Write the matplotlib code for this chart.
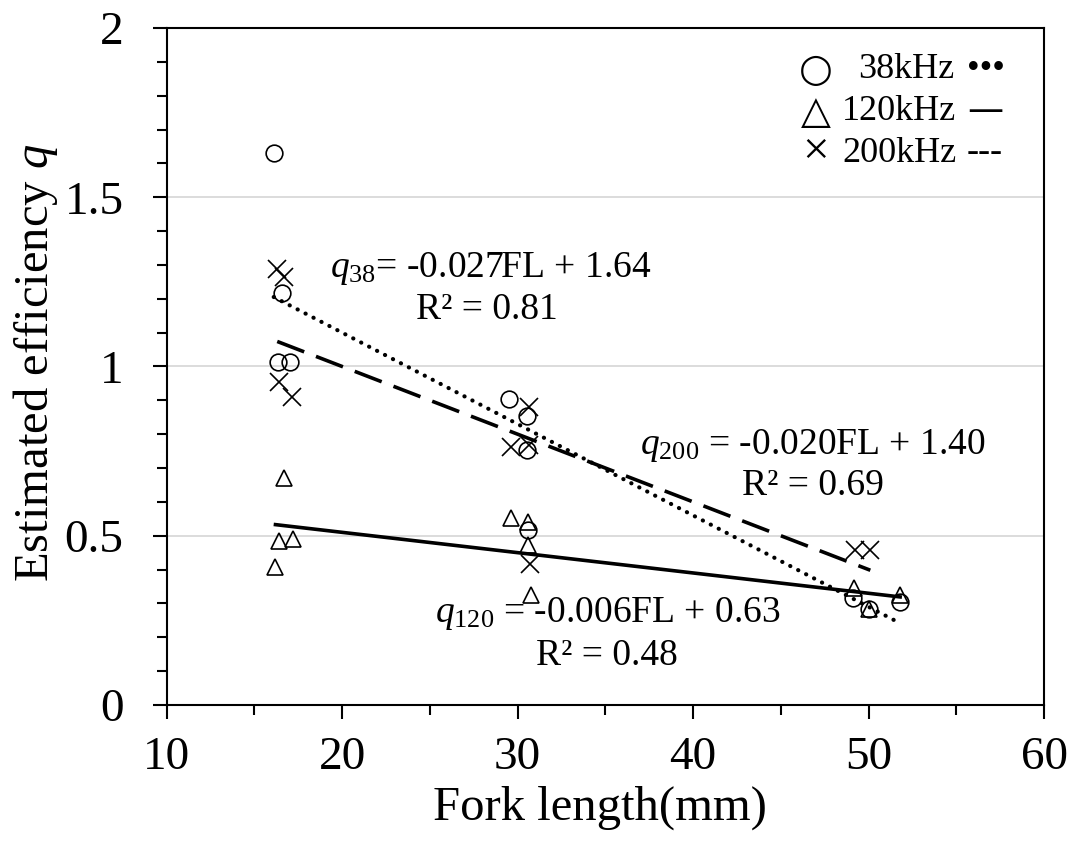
import matplotlib
matplotlib.use("Agg")
import matplotlib.pyplot as plt
from matplotlib.ticker import MultipleLocator, FuncFormatter
import numpy as np

plt.rcParams["font.family"] = ["Liberation Serif", "DejaVu Sans"]
plt.rcParams["mathtext.fontset"] = "custom"
plt.rcParams["mathtext.rm"] = "Liberation Serif"
plt.rcParams["mathtext.it"] = "Liberation Serif:italic"

# Fork length (mm) and estimated efficiency q per frequency
fl_38 = [16.1, 16.57, 16.32, 17.0, 29.52, 30.53, 30.53, 30.6, 49.14, 50.0, 51.8]
q_38 = [1.63, 1.216, 1.012, 1.012, 0.903, 0.854, 0.753, 0.517, 0.315, 0.283, 0.305]

fl_120 = [16.67, 16.42, 17.18, 16.2, 29.6, 30.6, 30.6, 30.76, 49.18, 50.0, 51.8]
q_120 = [0.670, 0.485, 0.490, 0.407, 0.551, 0.541, 0.473, 0.325, 0.345, 0.283, 0.325]

fl_200 = [16.3, 16.7, 16.42, 17.14, 30.66, 29.6, 30.66, 30.72, 49.24, 50.1]
q_200 = [1.288, 1.265, 0.953, 0.911, 0.881, 0.763, 0.768, 0.417, 0.458, 0.458]

# Linear fits (slope, intercept, R^2)
fit_38 = (-0.027, 1.64, 0.81)
fit_120 = (-0.006, 0.63, 0.48)
fit_200 = (-0.020, 1.40, 0.69)

W, H = 1074, 847
fig = plt.figure(figsize=(W / 100, H / 100), dpi=100)
ax = fig.add_axes([0.1552, 0.1677, 0.9721 - 0.1552, 0.9669 - 0.1677])

ax.set_xlim(10, 60)
ax.set_ylim(0, 2)
ax.xaxis.set_major_locator(MultipleLocator(10))
ax.xaxis.set_minor_locator(MultipleLocator(5))
ax.yaxis.set_major_locator(MultipleLocator(0.5))
ax.yaxis.set_minor_locator(MultipleLocator(0.1))
ax.yaxis.set_major_formatter(FuncFormatter(lambda v, p: f"{v:g}"))
ax.grid(axis="y", which="major", color="#d9d9d9", linewidth=1.3, zorder=0)
ax.set_axisbelow(True)

for s in ax.spines.values():
    s.set_linewidth(1.5)
ax.tick_params(which="major", direction="out", length=10, width=1.5,
               labelsize=34)
ax.tick_params(axis="x", which="major", pad=13)
ax.tick_params(axis="y", which="major", pad=21)
ax.tick_params(which="minor", direction="out", length=7.5, width=1.5)

# Trend lines over each series' range
def trend(fl, fit, **kw):
    x = np.array([min(fl), max(fl)])
    ax.plot(x, fit[0] * x + fit[1], color="black", zorder=2, **kw)

trend(fl_38, fit_38, linewidth=3.0, linestyle=(0, (0.05, 2.1)),
      dash_capstyle="round")
trend(fl_120, fit_120, linewidth=2.6, linestyle="-")
trend(fl_200, fit_200, linewidth=2.6, linestyle=(0, (8, 3.5)))

mk = dict(linestyle="none", markerfacecolor="none", markeredgecolor="black",
          markeredgewidth=1.2, zorder=3)
ax.plot(fl_38, q_38, marker="o", markersize=12, **mk)
ax.plot(fl_120, q_120, marker="^", markersize=12, **mk)
ax.plot(fl_200, q_200, marker="x", markersize=13, **mk)

# Axis titles
fig.text(600 / W, 1 - 808 / H, "Fork length(mm)", fontsize=35,
         ha="center", va="center")
fig.text(36 / W, 1 - 363 / H, r"Estimated efficiency $q$", fontsize=35,
         ha="center", va="center", rotation=90)

def at(px, py, s, **kw):
    fig.text(px / W, 1 - py / H, s, **kw)

# Equation annotations
def eq(px, py, sub, fit, sep=" "):
    at(px, py, rf"$q_{{{sub}}}${sep}= {fit[0]:.3f}FL + {fit[1]:.2f}",
       ha="center", va="center", fontsize=27)

def r2(px, py, fit):
    at(px, py, f"R² = {fit[2]:.2f}", ha="center", va="center", fontsize=27)

eq(491, 268, "38", fit_38, sep="")
r2(487, 310, fit_38)
eq(813, 445, "200", fit_200)
r2(813, 486, fit_200)
eq(608, 613, "120", fit_120)
r2(607, 656, fit_120)

# Legend text block: symbol, frequency, line-style key
legend_symbols = ["○", "△", "×"]
legend_labels = ["38kHz", "120kHz", "200kHz"]
legend_keys = ["•••", "—", "---"]
legend_x = [858, 842, 842]
for i in range(3):
    y = 70 + 41.5 * i
    if legend_symbols[i] == "×":
        at(816, y, legend_symbols[i], ha="center", va="center", fontsize=34)
    else:
        at(816, y, legend_symbols[i], ha="center", va="center", fontsize=28,
           family=["DejaVu Sans"])
    at(legend_x[i], y, legend_labels[i], ha="left", va="center", fontsize=26)
    at(967, y, legend_keys[i], ha="left", va="center", fontsize=26,
       family=["DejaVu Sans"] if legend_keys[i] == "—" else None)

fig.savefig("out.png", dpi=100)
